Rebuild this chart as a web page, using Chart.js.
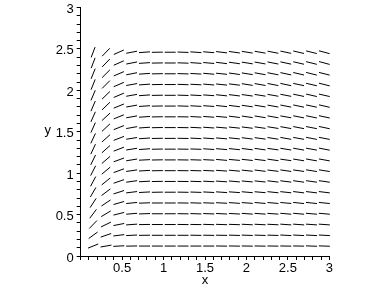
<!DOCTYPE html>
<html>
<head>
<meta charset="utf-8">
<script src="https://cdn.jsdelivr.net/npm/chart.js@4"></script>
<style>
  html, body { margin: 0; padding: 0; background: #fff; }
  #wrap { width: 388px; height: 288px; }
</style>
</head>
<body>
<div id="wrap"><canvas id="field"></canvas></div>
<script>
// grid of the direction field (x columns, y rows)
const xCols = [0.15, 0.305, 0.46, 0.615, 0.77, 0.925, 1.08, 1.235, 1.39, 1.545,
               1.70, 1.855, 2.01, 2.165, 2.32, 2.475, 2.63, 2.785, 2.94];
const yRows = [0.12, 0.25, 0.38, 0.51, 0.64, 0.77, 0.90, 1.03, 1.16, 1.29,
               1.42, 1.55, 1.68, 1.81, 1.94, 2.07, 2.20, 2.33, 2.46];

// segment angle in degrees, one row per y (bottom row first), one entry per x column
const slopeAngles = [
  [22, 10,  3,  1, 0, 0, 0,  0,  0,  0, -1, -1, -1, -1,  -1,  -1,  -1,  -2,  -2],
  [36, 19,  7,  3, 1, 0, 0,  0, -1, -1, -1, -2, -2, -2,  -2,  -3,  -3,  -3,  -3],
  [46, 26, 11,  4, 1, 0, 0, -1, -1, -2, -2, -2, -3, -3,  -3,  -4,  -4,  -4,  -4],
  [53, 31, 14,  5, 2, 0, 0, -1, -2, -2, -3, -3, -4, -4,  -4,  -5,  -5,  -5,  -5],
  [57, 34, 16,  6, 2, 0, 0, -1, -2, -2, -3, -4, -4, -5,  -5,  -5,  -6,  -6,  -6],
  [60, 37, 18,  7, 3, 1, 0, -1, -2, -3, -4, -4, -5, -5,  -6,  -6,  -7,  -7,  -7],
  [62, 39, 19,  8, 3, 1, 0, -1, -2, -3, -4, -5, -5, -6,  -7,  -7,  -8,  -8,  -8],
  [63, 40, 20,  8, 3, 1, 0, -1, -2, -3, -4, -5, -6, -7,  -7,  -8,  -8,  -9,  -9],
  [64, 41, 20,  9, 3, 1, 0, -1, -2, -3, -5, -5, -6, -7,  -8,  -8,  -9, -10, -10],
  [65, 42, 21,  9, 4, 1, 0, -1, -2, -4, -5, -6, -7, -8,  -8,  -9, -10, -10, -11],
  [65, 42, 21,  9, 4, 1, 0, -1, -3, -4, -5, -6, -7, -8,  -9, -10, -10, -11, -11],
  [66, 43, 22, 10, 4, 1, 0, -1, -3, -4, -5, -6, -7, -8,  -9, -10, -11, -11, -12],
  [66, 43, 22, 10, 4, 1, 0, -1, -3, -4, -5, -7, -8, -9, -10, -10, -11, -12, -12],
  [67, 44, 22, 10, 4, 1, 0, -2, -3, -4, -6, -7, -8, -9, -10, -11, -12, -12, -13],
  [67, 44, 23, 10, 4, 1, 0, -2, -3, -4, -6, -7, -8, -9, -10, -11, -12, -13, -13],
  [68, 45, 23, 10, 4, 1, 0, -2, -3, -5, -6, -7, -9, -10, -11, -12, -12, -13, -14],
  [68, 45, 23, 11, 4, 1, 0, -2, -3, -5, -6, -8, -9, -10, -11, -12, -13, -14, -14],
  [69, 46, 24, 11, 4, 1, 0, -2, -4, -5, -7, -8, -9, -10, -11, -12, -13, -14, -15],
  [69, 46, 24, 11, 4, 1, 0, -2, -4, -5, -7, -8, -9, -10, -11, -12, -13, -14, -15]
];

const axisMin = 0;
const axisMax = 3;

const points = [];
yRows.forEach((y, r) => {
  xCols.forEach((x, c) => {
    points.push({ x: x, y: y, a: slopeAngles[r][c] });
  });
});

const isHalf = v => Math.abs(v * 2 - Math.round(v * 2)) < 1e-6;
const tickFont = { family: '"Liberation Sans", Arial, sans-serif', size: 13 };

// horizontal "y" label left of the axis, Maple style
const yLabel = {
  id: 'yLabel',
  afterDraw(chart) {
    const ctx = chart.ctx;
    const ys = chart.scales.y;
    ctx.save();
    ctx.font = '13px "Liberation Sans", Arial, sans-serif';
    ctx.fillStyle = '#000';
    ctx.textAlign = 'center';
    ctx.textBaseline = 'middle';
    ctx.fillText('y', chart.chartArea.left - 33, ys.getPixelForValue(1.5) - 1);
    ctx.restore();
  }
};

new Chart(document.getElementById('field'), {
  type: 'scatter',
  data: {
    datasets: [{
      data: points,
      pointStyle: 'line',
      pointRadius: 5.5,
      pointBorderWidth: 1,
      borderColor: '#000',
      backgroundColor: '#000',
      pointRotation: ctx => -(ctx.raw ? ctx.raw.a : 0),
      clip: false
    }]
  },
  options: {
    responsive: true,
    maintainAspectRatio: false,
    animation: false,
    events: [],
    layout: { padding: { top: 7.5, right: 58.7, bottom: 0, left: 0 } },
    plugins: { legend: { display: false }, tooltip: { enabled: false } },
    scales: {
      x: {
        type: 'linear',
        min: axisMin, max: axisMax,
        afterFit: s => { s.height = 32; },
        grid: { drawOnChartArea: false, tickLength: 4, tickColor: '#000' },
        border: { color: '#000', width: 1 },
        ticks: {
          stepSize: 0.1, maxTicksLimit: 40, autoSkip: false, maxRotation: 0,
          padding: 1, color: '#000', font: tickFont,
          callback: v => (isHalf(v) && v !== 0 ? String(v) : '')
        },
        title: { display: true, text: 'x', color: '#000', font: tickFont, padding: { top: 0, bottom: 0 } }
      },
      y: {
        type: 'linear',
        min: axisMin, max: axisMax,
        afterFit: s => { s.width = 80.7; s.paddingTop = 0; s.paddingBottom = 0; },
        grid: { drawOnChartArea: false, tickLength: 4, tickColor: '#000' },
        border: { color: '#000', width: 1 },
        ticks: {
          stepSize: 0.1, maxTicksLimit: 40, autoSkip: false,
          padding: 3, labelOffset: 2, color: '#000', font: tickFont,
          callback: v => (isHalf(v) ? String(v) : '')
        }
      }
    }
  },
  plugins: [yLabel]
});
</script>
</body>
</html>
